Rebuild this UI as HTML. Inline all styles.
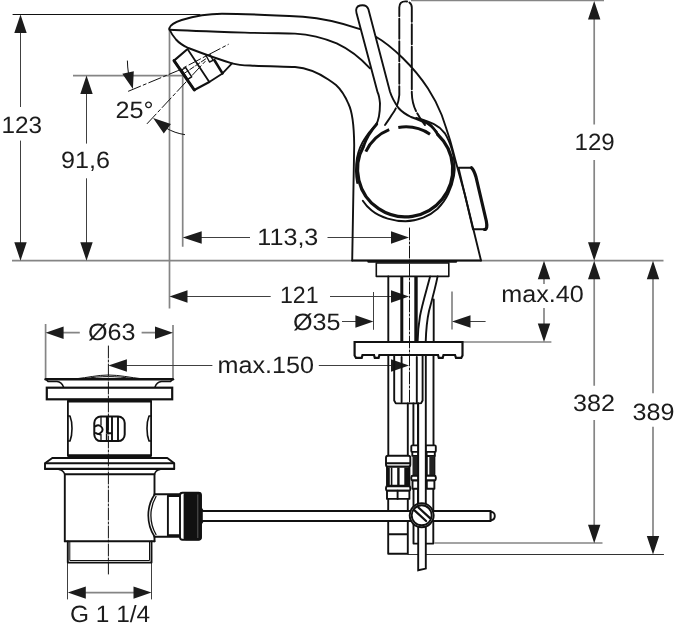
<!DOCTYPE html>
<html><head><meta charset="utf-8">
<style>
html,body{margin:0;padding:0;background:#fff;}
svg{display:block;}
text{font-family:"Liberation Sans",sans-serif;font-size:23.5px;fill:#1c1c1c;text-rendering:geometricPrecision;}
#txt{opacity:0.999;}
.g{stroke:#858585;stroke-width:1.7;fill:none;}
.d{stroke:#404040;stroke-width:1;fill:none;}
.k{stroke:#111;stroke-width:1.9;fill:none;stroke-linecap:round;stroke-linejoin:round;}
.t{stroke:#111;stroke-width:2.8;fill:none;stroke-linecap:round;stroke-linejoin:round;}
.a{fill:#1c1c1c;stroke:none;}
.w{fill:#fff;}
</style></head><body>
<svg width="674" height="630" viewBox="0 0 674 630">
<rect width="674" height="630" fill="#fff"/>
<!-- DIMENSIONS -->
<g id="dims">
<!-- top line for 123 -->
<path class="k" style="stroke-width:1" d="M13 14.5H200"/>
<path class="g" d="M411 0.4H604"/>
<!-- base line -->
<path class="g" d="M12 260.7H663.5"/>
<!-- 123 -->
<path class="d" d="M20.5 30V107M20.5 140.6V245"/>
<path class="a" d="M20.5 14.5l-6.2 18.5h12.4zM20.5 260.7l-6.2-18.5h12.4z"/>
<!-- 91,6 -->
<path class="g" d="M73 75.6H183"/><path class="d" d="M86.5 92V143.6M86.5 178.3V245"/>
<path class="a" d="M86.5 75.6l-6.2 18.5h12.4zM86.5 260.7l-6.2-18.5h12.4z"/>
<!-- vertical ext lines -->
<path class="g" d="M169.5 28V308.5M182.7 75.6V246.7"/>
<!-- 113,3 -->
<path class="d" d="M200 237.5H250M327.5 237.5H392"/>
<path class="a" d="M182.7 237.5l19-6.2v12.4zM409 237.5l-18-6.2v12.4z"/>
<!-- 121 -->
<path class="d" d="M186 296.5H270.7M330 296.5H392"/>
<path class="a" d="M169.5 296.5l18-6.2v12.4zM409 296.5l-18-6.2v12.4z"/>
<!-- 129 -->
<path class="g" d="M594.2 17V124.6M594.2 160V245"/>
<path class="a" d="M594.2 1l-6.2 18.5h12.4zM594.2 260.7l-6.2-18.5h12.4z"/>
<!-- max.40 -->
<path class="g" d="M544 278V284M544 308V325M462 342H551.4"/>
<path class="a" d="M544 260.7l-6.2 18.5h12.4zM544 342l-6.2-18.5h12.4z"/>
<!-- 382 -->
<path class="g" d="M594.2 278V385.8M594.2 420V527M434.5 543H602.5"/>
<path class="a" d="M594.2 260.7l-6.2 18.5h12.4zM594.2 543.2l-6.2-18.5h12.4z"/>
<!-- 389 -->
<path class="g" d="M653 278V393.3M653 426.7V538"/>
<path class="k" style="stroke-width:1.1;stroke:#333" d="M408 554.5H663.5"/>
<path class="a" d="M653 260.7l-6.2 18.5h12.4zM653 554.5l-6.2-18.5h12.4z"/>
<!-- Ø35 -->
<path class="d" d="M373.5 292V329.8M342 321.5H357M469 321.5H485.6"/><path class="g" d="M452 291.6V329.5"/>
<path class="a" d="M373.4 321.5l-18-6.2v12.4zM452 321.5l18.5-6.2v12.4z"/>
<!-- Ø63 -->
<path class="g" d="M45.6 324V379M173 325V378M62 332.7H79.8M141.6 332.7H156"/>
<path class="a" d="M45.6 332.7l18-6.2v12.4zM173 332.7l-18-6.2v12.4z"/>
<!-- max.150 -->
<path class="d" d="M126 365.5H212.4M318.8 365.5H392"/>
<path class="a" d="M108.4 365.5l18.5-6.2v12.4zM409 365.5l-18-6.2v12.4z"/>
<!-- G 1 1/4 -->
<path class="d" d="M67.5 563V599.4M151.5 563V599.4"/><path class="g" d="M85 592.6H134"/>
<path class="a" d="M67.8 592.6l18-6.2v12.4zM151.5 592.6l-18-6.2v12.4z"/>
</g>

<!-- FAUCET -->
<g id="faucet">
<!-- spout top outline up to handle -->
<path class="k" d="M169.3 28.3C170 25.5 174 22.5 181.7 20C193 16.5 207 13.7 222 13.7C245 13.7 285 15.8 303 16.8C322 18.2 342 23 360 29.2"/>
<!-- continuation behind handle to body right -->
<path class="k" d="M375.5 36.5C392 46 414 67 428 88.5C434.5 98.5 438.5 107 441.7 115C444.5 123 447.5 132 450 140C452.5 148.5 454.5 157 456.7 165L465 195L481 260.5"/>
<!-- middle line -->
<path class="k" d="M169.5 29.7C185 30.6 215 31.6 245 32.6C265 33.2 285 33.3 295 33.6C310 34.5 325 38.5 336.7 43.3C350 49.5 361 58.5 370 68.3"/>
<!-- lower outline + body left -->
<path class="k" d="M169.5 29.5C171 33 173.5 36.5 176 39.5C180 44 185 46.5 188.3 48C200 52.5 215 58.3 232 63.3C238 65 243 65.3 250 65.5C265 66.3 285 66.5 295 67C305 67.8 318 72.5 328.3 79.5C331 81.3 333.5 83 336 85C341 89.5 345.5 97 348.5 104C352 111 354 125 354.2 145L352.2 260.5"/>
<!-- body bottom -->
<path class="k" d="M352.2 260.5H481"/>
<path class="t" style="stroke-width:2.4" d="M368.5 261.6H456"/>
<!-- base plate -->
<rect class="k" style="stroke-width:1.6" x="376.3" y="263" width="72.5" height="13.4"/>
<!-- handle solid -->
<path class="k w" d="M357.2 183C355.8 176 355.6 166 357 158C358.5 150 361.5 143.5 365 138.3C369 132 373 128 375.8 125C378.5 121 380 116 380 103.3C379.5 98 378.5 94 377.5 92L356.5 13C355.4 9 356.6 6.3 360 5.5C364 4.7 367.2 5.6 368.4 9.3L390 91.7C392 98 395 103 398.5 108C402 112 406 114.5 411 117C418 119.5 423 121.5 426.7 123.3C431 126 434 129 436.7 131.7" />
<!-- dashed handle -->
<path class="k" style="stroke-dasharray:20 2.5" d="M385 125C388 120.5 390 118 391.7 115C395.5 110 398.5 104 399.3 95V7.5C399.3 3.5 402 1.4 405.5 1.4C409 1.4 411.8 3.5 411.8 7.5V93C412 100 413.5 106 416 111C418.5 116 421.5 121 425 125"/>
<!-- knob: thin ring offset -->
<path class="k" d="M362.8 200.8C365.5 205 368.5 208 371.7 210.6C376.5 214.5 382 217 387.7 218.6C393.5 220.3 399.5 221.3 405.5 221.3C411.5 221.3 417.5 220 423.3 217.7C428.5 215.6 433.3 212.7 437.6 208.8C442 204.5 445.6 199.5 448.3 193.7C451 188 453 182 454 175.9C454.7 172 454.9 167.5 454.5 163.4C454.2 158.5 453.3 153.7 451.8 149.2C450 143.5 447.8 138 444.7 133.1C441.8 129.3 438.2 126.3 434 124.2C430.5 122.3 427 121 423.3 119.8C420.8 119 418.5 118.5 416.2 118"/>
<!-- knob thick circle -->
<path class="t" style="stroke-width:3.3" d="M363.6 146A47.6 47.6 0 1 0 437.8 134.6"/>
<path class="t" style="stroke-width:2.8" d="M376.8 124C371.5 130 366.5 137.5 363.6 146M423.5 121C428 122.6 431.5 125.5 434 129C435.5 131 436.7 132.8 437.8 134.6"/>
<!-- inner thick dashed arcs -->
<path class="t" style="stroke-width:3;stroke-linecap:butt" d="M365.8 151.7A44 44 0 0 1 389.2 129.7M398.3 127.5A44 44 0 0 1 430 134.2"/>
<!-- side button -->
<path class="k" d="M458.5 167.8H471.5M458.5 167.8L473 229.3H485"/>
<path class="t" style="stroke-width:3.2" d="M471.5 167.8C473.5 169.5 474.5 172 476 177L486.3 221C487.3 226 487 229.5 484.5 229.5"/>
<!-- center line -->
</g>

<!-- AERATOR -->
<g id="aerator">
<path class="k" style="stroke-width:1;stroke-dasharray:13 3 3 3" d="M128.5 91.2L177.8 70.7L228.3 44.4"/>
<path class="k" style="stroke-width:1;stroke-dasharray:13 3 3 3" d="M147.2 123.6L206 60.5"/>
<path class="k" style="stroke-width:1;stroke-dasharray:5 2" d="M184 73.5L207 58"/>
<path class="t" style="stroke-width:2.1" d="M186.7 49.8L174 60.6L194.3 90L209.3 82"/>
<path class="t" style="stroke-width:3" d="M174 60.6L194.3 90"/>
<path class="k" style="stroke-width:1.8" d="M187.5 49L209.3 82L222.5 73.4L232 63.3"/>
<path class="t" style="stroke-width:2.6" d="M214.3 60L222.5 73.4"/>
<path class="k" style="stroke-width:1.4" d="M181.7 70L185.6 67.5L191.7 76.8L187.7 79.3Z"/>
<path class="k" style="stroke-width:1.4" d="M206 55.5L209.5 62L213 60.3L210 54.5"/>
</g>
<!-- 25deg -->
<g id="deg">
<path class="k" style="stroke-width:1" d="M127.4 61C127.5 65 127.8 69 128.4 73M166 128C172 131.5 178 133.6 184.6 134.6"/>
<path class="a" d="M132.9 88.9L122.3 73.7L133.8 71.2ZM153.1 118L170.9 123.9L163.8 133.4Z"/>
</g>


<!-- DRAIN -->
<g id="drain">
<!-- cap -->
<path class="k" style="stroke-width:1" d="M76 378.8C88 377.5 98 375 108.5 375C119 375 130 377.5 142 378.8M84 378.6C93 377.3 101 376.6 108.5 376.6C116 376.6 124 377.3 133 378.6"/>
<path class="t" style="stroke-width:2.4" d="M45.6 379.2H173"/>
<path class="k" style="stroke-width:1.5" d="M46 379.4L48 381.4H57C60.5 381.6 62.5 384 63.5 387M172.6 379.4L170.6 381.4H161.5C158 381.6 156 384 155 387"/>
<!-- flange -->
<rect class="t w" style="stroke-width:2.2;stroke-linejoin:miter" x="46.8" y="387.7" width="125.4" height="11.6"/>
<!-- upper body -->
<path class="k" style="stroke-width:1.8" d="M67.9 401V455.5M151.1 401V455.5"/>
<path class="k" style="stroke-width:1.6" d="M67.9 416H70C71.6 420 72 424 72 428.5C72 433 71.6 437 70 441H67.9M151.1 416H149C147.4 420 147 424 147 428.5C147 433 147.4 437 149 441H151.1"/>
<path class="t" style="stroke-width:3;stroke-linecap:butt" d="M67.5 401H151.5M67.5 455.7H151.5"/>
<!-- slot -->
<rect class="k" style="stroke-width:2" x="94.3" y="416.5" width="30.4" height="24.6" rx="6.5"/>
<path class="k" style="stroke-width:1.3" d="M101 417.2V425M101 434.5V440.2M96 433.4L101 435.2"/>
<path class="k" style="stroke-width:1.9" d="M112 417V440.5M118 417V440.5M95.5 426.3A4.2 4.2 0 1 1 95.8 433M108 433.3H112"/>
<path class="k" style="stroke-width:2.8;stroke-linecap:butt" d="M107.3 417V433.5"/>
<path class="k" style="stroke-width:1.5;stroke-linecap:butt" d="M106.6 433.5V440.5"/>
<!-- lower flange -->
<path class="k w" d="M52.3 458H167.3L174.2 463.2V468.8H45V463.2Z"/>
<path class="t" style="stroke-width:2" d="M45.5 463.3H173.8M45 468.9H174.2"/>
<path class="k" style="stroke-width:1.4" d="M59 469.5C62.5 470 64 472 64.8 474.5M160 469.5C156.5 470 155 472 154.5 474.5"/>
<!-- lower body -->
<path class="k" d="M64.8 474V541.3M154.5 474V494.5M64.8 474.3H154.5"/>
<path class="t" style="stroke-width:2" d="M64.8 541.3H154.5"/>
<path class="k" d="M154.5 536.8V541.3"/>
<!-- thread -->
<path class="k" d="M67.8 541.5V562.6H151.5V541.5"/>
<path class="k" style="stroke-width:1" d="M69.8 542V560.5H149.5V542"/>
<!-- elbow -->
<path class="k" d="M154.5 494.3H180M154.5 536.8H180M167.9 496V536M167.9 496H180M167.9 535.3H180"/>
<path class="t" style="stroke-width:1.7" d="M154.6 494.5C150.5 500.5 148.3 507.5 148.3 515.5C148.3 523.5 150.5 530.5 154.6 536.8"/>
<path class="k" style="stroke-width:1.3" d="M156 496.5C152.5 502.5 150.9 508.5 150.9 515.5C150.9 522.5 152.5 528.5 156 534.5"/>
<!-- nut -->
<rect class="k w" x="180" y="492.8" width="21" height="47" rx="2.5"/>
<rect x="183.6" y="492.4" width="17.8" height="47.8" rx="2.5" fill="#111"/>
<path d="M197.8 494.5V538" stroke="#777" stroke-width="0.7" fill="none"/>
<path class="k w" d="M201.2 508.5L202.8 511V521L201.2 523.5Z"/>
<!-- centerline -->
<path class="k" style="stroke-width:1;stroke-dasharray:12 2 2 2" d="M108.4 346V574.5"/>
</g>
<!-- PIPES -->
<g id="pipes">
<!-- between base plate and mounting plate -->
<path class="k" d="M388.3 276.4V342M433.7 299.5V342"/>
<path class="t" style="stroke-width:3;stroke-linecap:butt" d="M401.8 276.4V342"/><path class="t" style="stroke-width:3.4;stroke-linecap:butt" d="M416 276.4V342"/>
<path class="k" d="M430.1 276.4C426 292 422 305 420 316C418.3 326 417.8 334 417.6 342M437.6 276.4C435.5 287 432 300 429 311C427 320 426 332 425.7 342"/>
<!-- mounting plate -->
<path class="t w" style="stroke-width:2.2;stroke-linejoin:miter" d="M354.6 342H462.5V355.5L461.3 357.8H456L455 355H443.5L442.7 357.8H438.8L438 355H379.4L378.6 357.8H374.8L374 355H362.5L361.7 357.8H356L354.6 355.5Z"/>
<!-- below plate: cartridge -->
<path class="k" d="M388.3 356V455.5"/>
<path class="k" d="M394.2 356V400.5L395.8 403.4H421L422.6 400.5V356M401.6 357V401.8M416.8 357V401.8"/>
<path class="k" d="M433.5 356V445.5"/>
<path class="k" d="M407.8 403.4V455.5M413.4 403.4V445.5M418 403.4V503"/>
<!-- left pipe fitting -->
<rect class="k w" x="386" y="455.7" width="24.3" height="11" rx="2"/>
<path class="k" d="M386.5 463.2H410"/>
<rect class="k w" x="387" y="466.8" width="22.4" height="19"/>
<path d="M387 467.5h2.8v18h-2.8zM390.8 467.5h1.6v18h-1.6zM397.2 467.5h2.4v18h-2.4zM404.3 467.5h5v18h-5z" fill="#111"/>
<rect class="k w" x="386" y="486.3" width="24.3" height="4.4" rx="1.5"/>
<rect class="k w" x="387" y="490.7" width="22.4" height="8.2"/>
<path class="k" d="M397.6 490.7V498.9"/>
<path class="k" d="M388.2 498.9V553.8H407.8V498.9M388.2 534.2H407.8"/>
<!-- small fittings -->
<path class="k" d="M413.5 488.8V543.6H433.3V488.8"/>
<rect class="k w" x="411.3" y="445.4" width="7" height="6.5" rx="1"/>
<rect class="k w" x="412.3" y="451.9" width="6" height="4"/>
<rect x="412.5" y="456" width="6" height="19.7" fill="#222"/>
<rect class="k w" x="411.3" y="475.7" width="7" height="4.8" rx="1.5"/>
<rect class="k w" x="412.5" y="480.5" width="6" height="8.3"/>
<rect class="k w" x="425.6" y="445.4" width="10.2" height="6.5" rx="1"/>
<rect class="k w" x="426.6" y="451.9" width="8.2" height="4"/>
<rect class="k w" x="426.8" y="456" width="7.6" height="19.7"/>
<rect x="429.3" y="456" width="5" height="19.7" fill="#222"/>
<rect class="k w" x="425.6" y="475.7" width="10.2" height="4.8" rx="1.5"/>
<rect class="k w" x="426.8" y="480.5" width="7.6" height="8.3"/>
<!-- central rod in front -->
<path class="w" d="M418.2 404.5V570.3L425.8 568.6V404.5Z"/><path class="k" d="M418.2 403.4V570.3L425.8 568.6V356" style="stroke-linejoin:miter"/>
<!-- horizontal rod -->
<path class="t w" style="stroke-width:2" d="M202.8 511H490.7V521H202.8"/>
<path class="k w" d="M490.7 511.6C493.5 512 494.8 514 494.8 516C494.8 518 493.5 520 490.7 520.4Z"/>
<!-- screw -->
<circle class="k w" cx="421.7" cy="515.3" r="12"/>
<circle class="k w" cx="421.7" cy="515.3" r="10"/>
<path class="t" style="stroke-width:2.2" d="M414.5 510.4L426.1 521M418.4 507.5L430 518.1"/>
</g>
<path class="k" style="stroke-width:1;stroke-dasharray:12 2 2 2" d="M409.5 228V403"/>
<g id="txt">
<text transform="translate(1.5 132.6) scale(1.035 1)">123</text>
<text transform="translate(61 167.5) scale(1.07 1)">91,6</text>
<text transform="translate(257.3 244.8) scale(1.07 1)">113,3</text>
<text transform="translate(280 303.2) scale(0.985 1)">121</text>
<text transform="translate(574.5 149.5) scale(1.025 1)">129</text>
<text transform="translate(501.3 302) scale(1.07 1)">max.40</text>
<text transform="translate(573 410.7) scale(1.07 1)">382</text>
<text transform="translate(632.5 420) scale(1.07 1)">389</text>
<text transform="translate(115.5 118) scale(1.07 1)">25°</text>
<text transform="translate(293 329.5) scale(1.07 1)">Ø35</text>
<text transform="translate(88 339.7) scale(1.07 1)">Ø63</text>
<text transform="translate(217.5 372.6) scale(1.07 1)">max.150</text>
<text transform="translate(70 621.8) scale(1.04 1)">G 1 1/4</text>
</g>
</svg>
</body></html>
